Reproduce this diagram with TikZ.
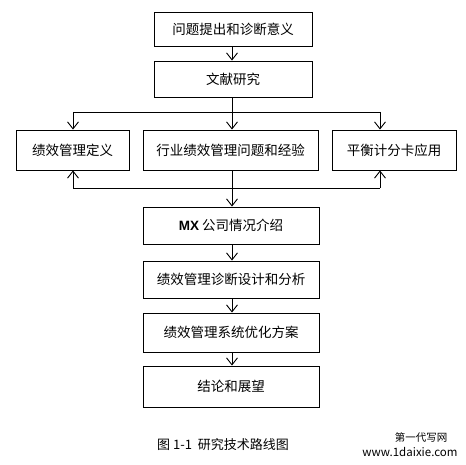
\documentclass[tikz,border=0pt]{standalone}
\usepackage{fontspec}
\newfontfamily\cjk{Noto Sans CJK SC}
\newfontfamily\lat{Liberation Sans}
\usetikzlibrary{arrows.meta,shadows}
\tikzset{
  stepbox/.style={draw, line width=0.9pt, fill=white, font=\cjk\fontsize{13.5}{15}\selectfont,
    inner sep=0pt, anchor=center,
    drop shadow={shadow xshift=0.9pt, shadow yshift=-1.2pt, opacity=1, fill=black}},
  conn/.style={line width=0.9pt},
  arr/.style={conn, -{Straight Barb[length=7pt,width=11pt,line width=0.9pt]}},
}
\begin{document}
\begin{tikzpicture}[x=1pt,y=-1pt]
\useasboundingbox (0,0) rectangle (466,465);
\node[stepbox, minimum width=158pt, minimum height=34pt] (n1) at (233,29) {问题提出和诊断意义};
\node[stepbox, minimum width=158pt, minimum height=36pt] (n2) at (233,79) {文献研究};
\node[stepbox, minimum width=113pt, minimum height=40pt] (a) at (72.5,150) {绩效管理定义};
\node[stepbox, minimum width=175pt, minimum height=40pt] (b) at (230.5,150) {行业绩效管理问题和经验};
\node[stepbox, minimum width=124pt, minimum height=40pt] (c) at (394,150) {平衡计分卡应用};
\node[stepbox, minimum width=176pt, minimum height=37pt] (d) at (231,225.5) {{\lat\bfseries MX} 公司情况介绍};
\node[stepbox, minimum width=176pt, minimum height=37pt] (e) at (231,279.5) {绩效管理诊断设计和分析};
\node[stepbox, minimum width=176pt, minimum height=39pt] (f) at (231,332.5) {绩效管理系统优化方案};
\node[stepbox, minimum width=176pt, minimum height=41pt] (g) at (231,386.5) {结论和展望};
\coordinate (tj) at (232,112);
\coordinate (tl) at (73,112);
\coordinate (tr) at (380,112);
\coordinate (bl) at (73,188);
\coordinate (br) at (380,188);
\coordinate (bj) at (232,188);
\draw[arr] (n1.south -| tj) -- (n2.north -| tj);
\draw[conn] (n2.south -| tj) -- (tj);
\draw[conn] (tl) -- (tr);
\draw[arr] (tl) -- (tl |- a.north);
\draw[arr] (tj) -- (tj |- b.north);
\draw[arr] (tr) -- (tr |- c.north);
\draw[conn] (bl) -- (br);
\draw[arr] (bl) -- (bl |- a.south);
\draw[arr] (br) -- (br |- c.south);
\draw[arr] (b.south -| tj) -- (d.north -| tj);
\draw[arr] (d.south -| tj) -- (e.north -| tj);
\draw[arr] (e.south -| tj) -- (f.north -| tj);
\draw[arr] (f.south -| tj) -- (g.north -| tj);
\node[font=\cjk\fontsize{13}{15}\selectfont] (cap) at (223,445) {图 1-1\ \ 研究技术路线图};
\node[font=\cjk\fontsize{10.5}{11}\selectfont, inner sep=0pt] (wm1) at (421,437) {第一代写网};
\node[font=\cjk\fontsize{11.5}{12}\selectfont, inner sep=0pt] (wm2) at (410,452) {www.1daixie.com};
\end{tikzpicture}
\end{document}
